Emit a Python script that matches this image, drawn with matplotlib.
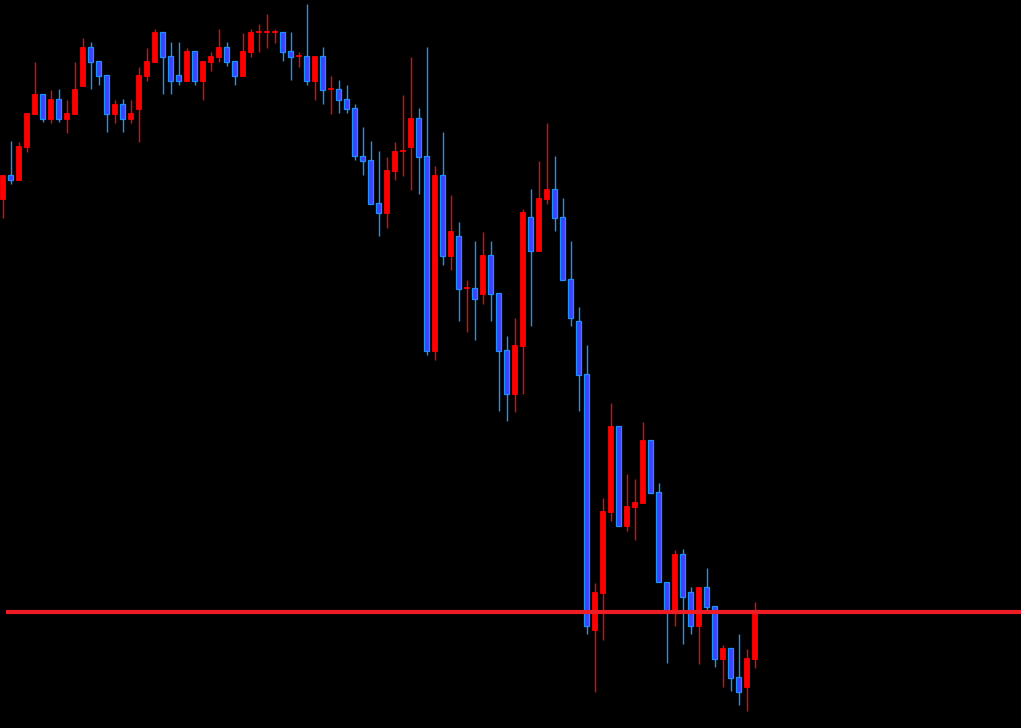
import numpy as np
import matplotlib
matplotlib.use('Agg')
import matplotlib.pyplot as plt

# OHLC (price units, bottom of chart = 0)
opens = [529, 553, 548, 581, 614, 634, 609, 629, 609, 614,
         642, 681, 667, 653, 614, 624, 609, 619, 652, 666,
         696, 672, 653, 647, 677, 647, 666, 671, 681, 667,
         652, 676, 696, 696, 696, 696, 677, 672, 672, 647,
         672, 639, 639, 629, 620, 572, 568, 525, 515, 557,
         577, 581, 610, 572, 377, 553, 472, 492, 440, 440,
         434, 473, 435, 378, 334, 382, 511, 477, 529, 539,
         511, 449, 407, 354, 98, 135, 216, 302, 202, 221,
         225, 288, 236, 146, 117, 174, 136, 102, 141, 122,
         69, 80, 51, 41, 69]
highs = [553, 587, 586, 615, 666, 634, 638, 639, 628, 666,
         690, 686, 667, 653, 628, 629, 628, 661, 680, 699,
         696, 686, 686, 680, 677, 667, 676, 699, 686, 667,
         695, 699, 704, 714, 699, 696, 696, 676, 724, 672,
         681, 652, 648, 643, 624, 601, 587, 577, 571, 586,
         633, 671, 620, 681, 562, 596, 533, 506, 448, 487,
         496, 487, 435, 392, 410, 519, 539, 567, 605, 572,
         530, 487, 421, 383, 145, 230, 325, 302, 254, 249,
         306, 288, 245, 146, 178, 179, 141, 141, 160, 122,
         83, 80, 94, 79, 126]
lows = [510, 544, 548, 576, 614, 606, 605, 606, 595, 614,
        642, 639, 643, 596, 605, 596, 605, 586, 647, 666,
        634, 634, 643, 647, 643, 628, 657, 666, 662, 643,
        652, 671, 676, 680, 685, 667, 648, 661, 643, 628,
        624, 614, 615, 615, 568, 553, 524, 492, 500, 548,
        552, 538, 534, 373, 368, 463, 458, 407, 396, 388,
        424, 407, 317, 307, 316, 334, 402, 477, 524, 497,
        448, 402, 317, 94, 36, 88, 207, 202, 197, 188,
        225, 235, 146, 65, 102, 84, 94, 64, 116, 61,
        41, 37, 23, 17, 60]
closes = [553, 548, 582, 615, 634, 609, 629, 609, 615, 639,
          681, 666, 652, 614, 624, 609, 615, 653, 667, 696,
          671, 647, 647, 677, 647, 667, 672, 681, 666, 652,
          677, 696, 696, 696, 696, 676, 671, 672, 647, 672,
          638, 639, 628, 619, 572, 567, 524, 515, 558, 577,
          577, 610, 571, 377, 553, 472, 497, 439, 440, 429,
          473, 434, 377, 334, 383, 516, 477, 530, 539, 510,
          448, 410, 353, 102, 136, 217, 302, 202, 222, 226,
          288, 235, 146, 117, 174, 131, 102, 141, 121, 69,
          80, 50, 36, 70, 116]
level = 116

bull_col = '#FF0000'
bear_fill = '#4040FF'
bear_edge = '#1E90FF'

o = np.array(opens, float)
h = np.array(highs, float)
l = np.array(lows, float)
c = np.array(closes, float)
x = np.arange(len(o))
up = c >= o

fig = plt.figure(figsize=(10.21, 7.28), dpi=100)
fig.patch.set_facecolor('black')
ax = fig.add_axes([0, 0, 1, 1])
ax.set_facecolor('black')

# wicks
ax.vlines(x[up], l[up], h[up], color=bull_col, linewidth=1.0, zorder=1)
ax.vlines(x[~up], l[~up], h[~up], color=bear_edge, linewidth=1.0, zorder=1)

# bodies
body_lo = np.minimum(o, c)
body_h = np.maximum(np.abs(c - o), 0.8)
ax.bar(x[up], body_h[up], bottom=body_lo[up], width=0.55,
       color=bull_col, edgecolor=bull_col, linewidth=0.6, zorder=2)
ax.bar(x[~up], body_h[~up], bottom=body_lo[~up], width=0.55,
       color=bear_fill, edgecolor=bear_edge, linewidth=0.9, zorder=2)

# horizontal level line
ax.axhline(level, xmin=7.5 / 1021, xmax=1, color='#EE1C25', linewidth=3.0, zorder=5)

ax.set_xlim(-2.5 / 8, (1021 - 2.5) / 8)
ax.set_ylim(0, 728)
ax.axis('off')

fig.savefig('out.png', dpi=100, facecolor='black')
